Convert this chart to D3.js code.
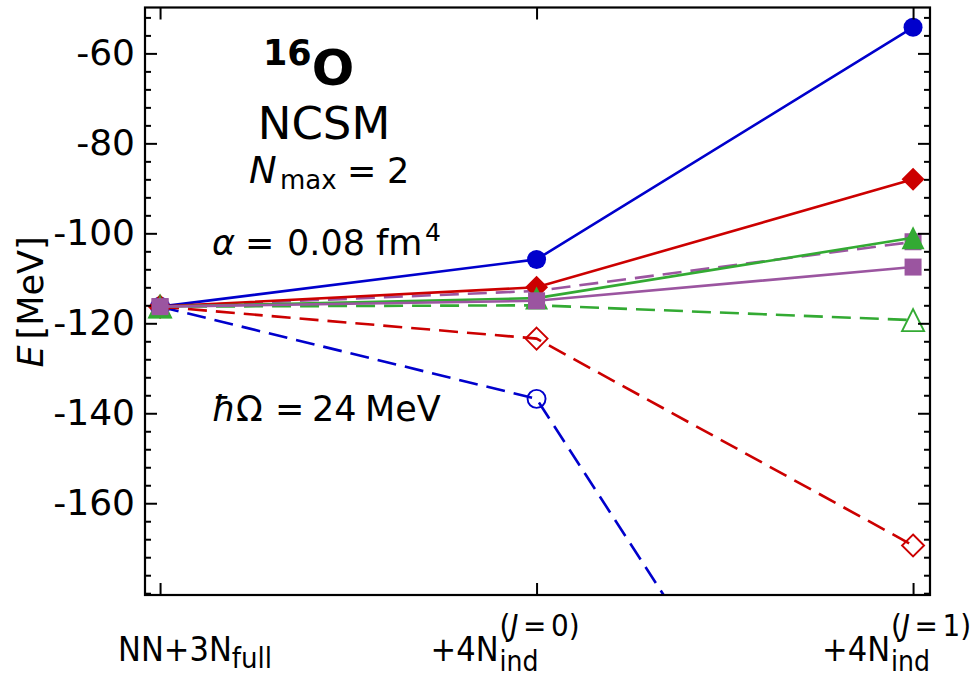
<!DOCTYPE html>
<html>
<head>
<meta charset="utf-8">
<script src="https://cdn.jsdelivr.net/npm/d3@7"></script>
<style>
  html, body { margin: 0; padding: 0; background: #fff; }
  svg { display: block; font-family: "DejaVu Sans", sans-serif; }
</style>
</head>
<body>
<svg id="chart" width="978" height="678"></svg>
<script>
// ---------------- data ----------------
const categories = ["NN+3N_full", "+4N_ind^(J=0)", "+4N_ind^(J=1)"];
const blueSolid    = [-116.3, -105.8, -54.2];
const redSolid     = [-116.3, -112.0, -88.0];
const greenSolid   = [-116.3, -114.4, -101.0];
const purpleSolid  = [-116.3, -115.0, -107.5];
const blueDashed   = [-116.3, -136.8, -266.0];
const redDashed    = [-116.3, -123.4, -169.4];
const greenDashed  = [-116.3, -116.0, -119.3];
const purpleDashed = [-116.3, -112.8, -101.9];
// which points of each series carry a visible marker
const allMarks = [true, true, true];
const greenDashedMarks = [true, false, true];
const purpleDashedMarks = [true, false, true];
const yMajorTicks = [-160, -140, -120, -100, -80, -60];
const yTickLabels = ["-160", "-140", "-120", "-100", "-80", "-60"];

// ---------------- layout ----------------
const L = 145, R = 930, T = 7.5, B = 595;
const svg = d3.select("#chart");

const x = d3.scaleLinear().domain([-0.04, 2.045]).range([L, R]);
const y = d3.scaleLinear().domain([-180.4, -49.8]).range([B, T]);

const colors = { blue: "#0000cc", red: "#cc0000", green: "#33aa33", purple: "#9b55a0" };

// custom matplotlib-like symbols (size = half extent in px)
const symDiamond = { draw(ctx, s) { ctx.moveTo(0, -s); ctx.lineTo(s, 0); ctx.lineTo(0, s); ctx.lineTo(-s, 0); ctx.closePath(); } };
const symTriangle = { draw(ctx, s) { ctx.moveTo(0, -s); ctx.lineTo(s, s); ctx.lineTo(-s, s); ctx.closePath(); } };
const symSquare = { draw(ctx, s) { ctx.moveTo(-s, -s); ctx.lineTo(s, -s); ctx.lineTo(s, s); ctx.lineTo(-s, s); ctx.closePath(); } };
const symCircle = { draw(ctx, s) { ctx.moveTo(s, 0); ctx.arc(0, 0, s, 0, 2 * Math.PI); } };

const series = [
  { vals: blueDashed,   marks: allMarks,          color: colors.blue,   dashed: true,  sym: symCircle,   size: 9,    filled: false },
  { vals: redDashed,    marks: allMarks,          color: colors.red,    dashed: true,  sym: symDiamond,  size: 11,   filled: false },
  { vals: greenDashed,  marks: greenDashedMarks,  color: colors.green,  dashed: true,  sym: symTriangle, size: 11,   filled: false },
  { vals: purpleDashed, marks: purpleDashedMarks, color: colors.purple, dashed: true,  sym: symSquare,   size: 8.5,  filled: true },
  { vals: blueSolid,    marks: allMarks,          color: colors.blue,   dashed: false, sym: symCircle,   size: 9.5,  filled: true },
  { vals: redSolid,     marks: allMarks,          color: colors.red,    dashed: false, sym: symDiamond,  size: 11.5, filled: true },
  { vals: greenSolid,   marks: allMarks,          color: colors.green,  dashed: false, sym: symTriangle, size: 11.5, filled: true },
  { vals: purpleSolid,  marks: allMarks,          color: colors.purple, dashed: false, sym: symSquare,   size: 8.5,  filled: true }
];

svg.append("defs").append("clipPath").attr("id", "plotclip")
  .append("rect").attr("x", L).attr("y", T).attr("width", R - L).attr("height", B - T);

const plot = svg.append("g").attr("clip-path", "url(#plotclip)");
const line = d3.line().x((d, i) => x(i)).y(d => y(d));

series.forEach(s => {
  plot.append("path").datum(s.vals)
    .attr("d", line)
    .attr("fill", "none")
    .attr("stroke", s.color)
    .attr("stroke-width", 2.6)
    .attr("stroke-dasharray", s.dashed ? "19,9" : null);
  const pts = s.vals.map((v, i) => ({ v, i })).filter(p => s.marks[p.i]);
  plot.selectAll(null).data(pts).enter().append("path")
    .attr("transform", p => `translate(${x(p.i)},${y(p.v)})`)
    .attr("d", d3.symbol().type(s.sym).size(s.size))
    .attr("fill", s.filled ? s.color : "none")
    .attr("stroke", s.filled ? "none" : s.color)
    .attr("stroke-width", s.filled ? 0 : 1.9);
});

// ---------------- axes ----------------
const axisG = svg.append("g");
const yMinor = d3.range(-180, -49, 4).filter(v => !yMajorTicks.includes(v));

function styleTicks(g) {
  g.select(".domain").remove();
  g.selectAll(".tick line").attr("stroke", "#000").attr("stroke-width", 2);
}

const leftAxis = d3.axisLeft(y).tickValues(yMajorTicks).tickSize(-12).tickPadding(10)
  .tickFormat((d, i) => yTickLabels[i]);
const gl = axisG.append("g").attr("transform", `translate(${L},0)`).call(leftAxis);
styleTicks(gl);
gl.selectAll(".tick text").attr("font-size", 36).attr("font-family", "DejaVu Sans").attr("fill", "#000");
styleTicks(axisG.append("g").attr("transform", `translate(${L},0)`)
  .call(d3.axisLeft(y).tickValues(yMinor).tickSize(-6).tickFormat("")));

styleTicks(axisG.append("g").attr("transform", `translate(${R},0)`)
  .call(d3.axisRight(y).tickValues(yMajorTicks).tickSize(-12).tickFormat("")));
styleTicks(axisG.append("g").attr("transform", `translate(${R},0)`)
  .call(d3.axisRight(y).tickValues(yMinor).tickSize(-6).tickFormat("")));

styleTicks(axisG.append("g").attr("transform", `translate(0,${B})`)
  .call(d3.axisBottom(x).tickValues([0, 1, 2]).tickSize(-12).tickFormat("")));
styleTicks(axisG.append("g").attr("transform", `translate(0,${T})`)
  .call(d3.axisTop(x).tickValues([0, 1, 2]).tickSize(-12).tickFormat("")));

svg.append("rect").attr("x", L).attr("y", T).attr("width", R - L).attr("height", B - T)
  .attr("fill", "none").attr("stroke", "#000").attr("stroke-width", 2.2);

// ---------------- x tick labels ----------------
function catLabel(i, dxStart) {
  const g = svg.append("g").attr("transform", `translate(${x(i) + dxStart},661) scale(0.9,1)`);
  const t = g.append("text").attr("font-size", 34).attr("fill", "#000");
  const c = categories[i];
  if (c.indexOf("full") >= 0) {
    t.append("tspan").text("NN+3N");
    t.append("tspan").attr("font-size", 29).attr("dy", 7).text("full");
  } else {
    const jm = c.match(/J=(\d)/)[1];
    t.append("tspan").text("+4N");
    const w = t.node().getComputedTextLength();
    g.append("text").attr("font-size", 28).attr("fill", "#000")
      .attr("x", w + 1).attr("y", 10).text("ind");
    const t3 = g.append("text").attr("font-size", 31).attr("fill", "#000")
      .attr("x", w + 1).attr("y", -25);
    t3.append("tspan").text("(");
    t3.append("tspan").attr("font-style", "italic").text("J");
    t3.append("tspan").attr("dx", 5).text("=");
    t3.append("tspan").attr("dx", 5).text(jm + ")");
  }
}
catLabel(0, -42);
catLabel(1, -106);
catLabel(2, -91);

// ---------------- y label ----------------
const yl = svg.append("text").attr("transform", "translate(43,302) rotate(-90)")
  .attr("text-anchor", "middle").attr("font-size", 35).attr("fill", "#000");
yl.append("tspan").attr("font-style", "italic").text("E");
yl.append("tspan").attr("dx", 6).text("[MeV]");

// ---------------- annotations ----------------
const ann = svg.append("g").attr("fill", "#000");
const t16 = ann.append("text").attr("x", 263).attr("y", 85).attr("font-weight", "bold");
t16.append("tspan").attr("font-size", 35).attr("dy", -20).text("16");
t16.append("tspan").attr("font-size", 50).attr("dy", 20).text("O");

ann.append("text").attr("x", 324).attr("y", 139).attr("text-anchor", "middle")
  .attr("font-size", 45).text("NCSM");

ann.append("text").attr("x", 249).attr("y", 183).attr("font-size", 37).attr("font-style", "italic").text("N");
ann.append("text").attr("x", 280).attr("y", 189).attr("font-size", 26).text("max");
ann.append("text").attr("x", 347).attr("y", 183).attr("font-size", 35).text("=");
ann.append("text").attr("x", 387).attr("y", 183).attr("font-size", 35).text("2");

ann.append("text").attr("x", 212).attr("y", 255).attr("font-size", 35).attr("font-style", "italic").text("α");
ann.append("text").attr("x", 245).attr("y", 255).attr("font-size", 35).text("=");
ann.append("text").attr("x", 287).attr("y", 255).attr("font-size", 35).text("0.08");
ann.append("text").attr("x", 376).attr("y", 255).attr("font-size", 35).text("fm");
ann.append("text").attr("x", 425).attr("y", 241).attr("font-size", 25).text("4");

ann.append("text").attr("x", 212).attr("y", 421).attr("font-size", 35).attr("font-style", "italic").text("ħ");
ann.append("text").attr("x", 236).attr("y", 421).attr("font-size", 35).text("Ω");
ann.append("text").attr("x", 275).attr("y", 421).attr("font-size", 35).text("=");
ann.append("text").attr("x", 312).attr("y", 421).attr("font-size", 35).text("24");
ann.append("text").attr("x", 365).attr("y", 421).attr("font-size", 35).text("MeV");
</script>
</body>
</html>
